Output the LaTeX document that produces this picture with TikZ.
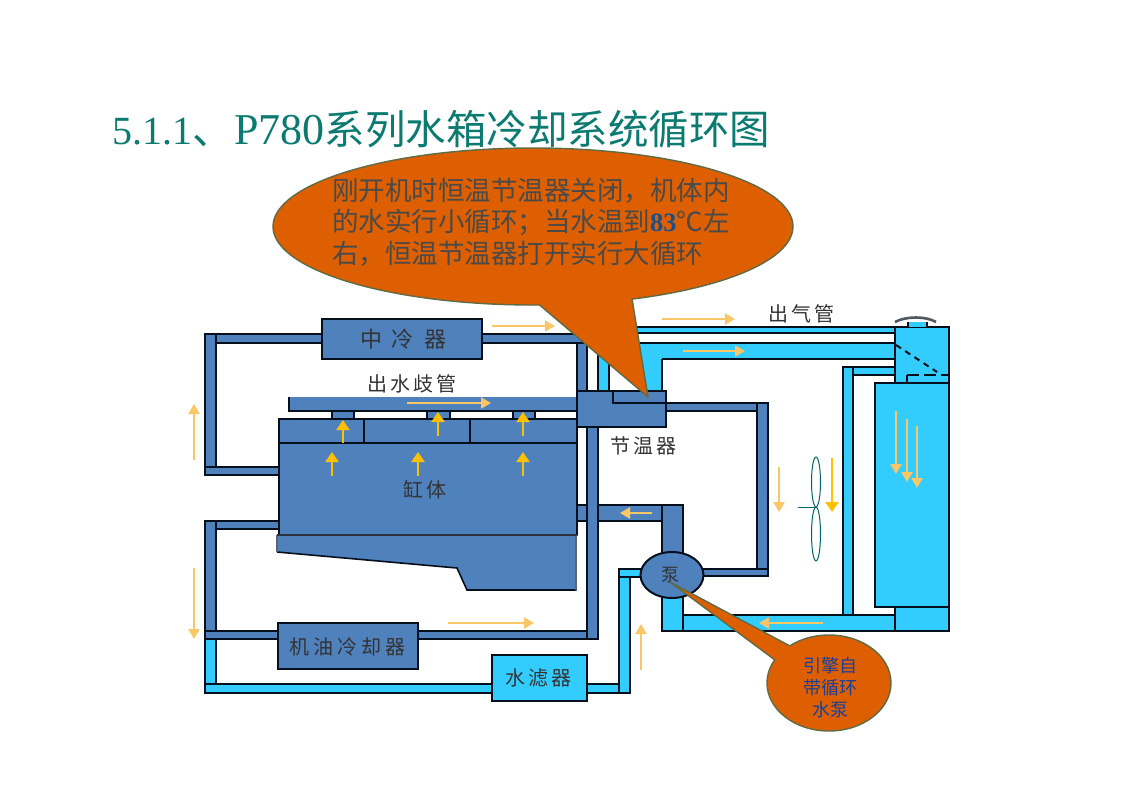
\documentclass[tikz,border=0pt]{standalone}
\usepackage{fontspec}
\setmainfont{Liberation Serif}
\newfontfamily\cjk{Noto Sans CJK SC}
\usetikzlibrary{arrows.meta,shapes.geometric}
\definecolor{dkblue}{HTML}{4F81BD}
\definecolor{ltblue}{HTML}{33CCFF}
\definecolor{edge}{HTML}{06101C}
\definecolor{flowlt}{HTML}{FBC666}
\definecolor{flowyl}{HTML}{FFC000}
\definecolor{bubblefill}{HTML}{DD5F00}
\definecolor{bubbleedge}{HTML}{5F6B45}
\definecolor{titlecol}{HTML}{0B7A70}
\definecolor{saytext}{HTML}{4A4A4A}
\newcommand{\lsize}[1]{\fontsize{#1}{#1}\selectfont}
\tikzset{
  x=1pt,y=-1pt,
  dk/.style={fill=dkblue,draw=edge,line width=2pt},
  lt/.style={fill=ltblue,draw=edge,line width=2pt},
  boxdk/.style={dk,rectangle,inner sep=0pt},
  boxlt/.style={lt,rectangle,inner sep=0pt},
  lab/.style={inner sep=0pt,text=black!80,font=\cjk\lsize{20}},
  fl/.style={draw=flowlt,line width=2.2pt,-{Triangle[length=10pt,width=11pt,fill=flowlt]}},
  fy/.style={draw=flowyl,line width=2.4pt,-{Triangle[length=10pt,width=13pt,fill=flowyl]}},
  fan/.style={draw=teal!80!black,line width=1pt},
  say/.style={fill=bubblefill,draw=bubbleedge,line width=1.4pt,ellipse,inner sep=0pt},
}
\begin{document}
\begin{tikzpicture}
\useasboundingbox (0,0) rectangle (1122,793);
\fill[white] (0,0) rectangle (1122,793);
% title
\node[anchor=base west,inner sep=0pt,text=titlecol,font=\lsize{40}] (title) at (112,144)
  {5.1.1{\cjk\lsize{41}、}\hspace{1pt}{\lsize{44}P780}{\cjk\lsize{40.5}系列水箱冷却系统循环图}};
% left circuit, upper
\draw[dk] (205,334) rectangle (587,343);
\draw[dk] (205,334) rectangle (216,475);
\draw[dk] (205,467) rectangle (280,475);
% left circuit, lower
\draw[dk] (205,521) rectangle (280,529);
\draw[dk] (205,521) rectangle (216,632);
\draw[lt] (205,632) rectangle (216,693);
\draw[dk] (205,631) rectangle (598,639);
\draw[lt] (205,684) rectangle (630,693);
\draw[lt] (619,569) rectangle (630,693);
\draw[lt] (619,569) rectangle (645,577);
% right of engine
\draw[dk] (577,343) rectangle (587,392);
\draw[dk] (575,505) rectangle (662,521);
\draw[dk] (587,425) rectangle (598,639);
\draw[dk] (662,505) rectangle (683,558);
\draw[lt] (662,592) rectangle (683,631);
% radiator lines
\draw[lt] (598,327) rectangle (895,333);
\draw[lt] (598,327) rectangle (609,392);
\draw[lt] (625,343) rectangle (895,359);
\fill[ltblue] (640,344) rectangle (662,392);
\draw[edge,line width=2pt] (662,359) -- (662,392);
\draw[dk] (664,403) rectangle (768,411);
\draw[dk] (757,403) rectangle (768,576);
\draw[dk] (700,569) rectangle (768,576);
\draw[lt] (683,615) rectangle (897,631);
\draw[lt] (843,367) rectangle (895,375);
\draw[lt] (843,367) rectangle (853,615);
% radiator
\draw[lt] (895,327) rectangle (949,383);
\draw[lt] (875,383) rectangle (949,607);
\draw[lt] (895,607) rectangle (949,631);
\draw[edge,line width=2pt,dash pattern=on 6pt off 5pt] (896,345) -- (937,372);
\draw[edge,line width=2pt,dash pattern=on 12pt off 5pt] (907,375) -- (949,375);
\draw[edge,line width=2pt] (907,383) -- (907,375);
\fill[ltblue] (908,322) rectangle (927,327);
\draw[edge,line width=1.2pt] (908,322) -- (908,327) (927,322) -- (927,327);
\draw[edge!70,line width=2.6pt] (895,322) .. controls (906,316) and (926,316) .. (936,322);
% manifold and engine
\fill[dkblue] (289,397) rectangle (577,411);
\draw[edge,line width=2pt] (289,397) -- (289,411) -- (577,411);
\draw[dk] (332,411) rectangle (354,419);
\draw[dk] (427,411) rectangle (450,419);
\draw[dk] (513,411) rectangle (535,419);
\draw[dk] (279,419) rectangle (577,443);
\draw[edge,line width=2pt] (364,419) -- (364,443) (470,419) -- (470,443);
\draw[dk] (279,443) rectangle (577,535);
\draw[dkblue,fill=dkblue,line width=0pt] (277,535) -- (577,535) -- (576,590) -- (467,590) -- (457,568) -- (277,552) -- cycle;
\draw[edge,line width=1.6pt] (277,552) -- (457,568) -- (467,590) -- (576,590);
\draw[edge!65,line width=2pt] (277,535) -- (277,552) (576,535) -- (576,590);
\draw[edge!85,line width=2pt] (277,535) -- (577,535);
% thermostat
\draw[dk] (577,391) rectangle (666,427);
\draw[edge,line width=2pt] (613,391) -- (613,403) -- (666,403);
% boxes
\node[boxdk,minimum width=160pt,minimum height=40pt] (intercooler) at (402,339) {};
\node[boxdk,minimum width=140pt,minimum height=46pt] (oilcooler) at (348,646) {};
\node[boxlt,minimum width=95pt,minimum height=46pt] (filter) at (539.5,678) {};
\node[fill=dkblue,draw=edge,line width=2pt,ellipse,inner sep=0pt,minimum width=63pt,minimum height=46pt] (pump) at (672,575) {};
% labels
\node[lab,font=\cjk\lsize{22}] (t1) at (403,339) {中\hspace{10pt}冷\hspace{10pt}器};
\node[lab] (t2) at (412,384) {出\hspace{3pt}水\hspace{3pt}歧\hspace{3pt}管};
\node[lab] (t3) at (425,490) {缸\hspace{3pt}体};
\node[lab] (t4) at (643,446) {节\hspace{3pt}温\hspace{3pt}器};
\node[lab] (t5) at (801,314) {出\hspace{3pt}气\hspace{3pt}管};
\node[lab] (t6) at (347,647) {机\hspace{4pt}油\hspace{4pt}冷\hspace{4pt}却\hspace{4pt}器};
\node[lab] (t7) at (538,678) {水\hspace{3pt}滤\hspace{3pt}器};
\node[lab,font=\cjk\lsize{18}] (t8) at (670,575) {泵};
% fan
\draw[fan] (816,482) ellipse [x radius=4.5,y radius=25];
\draw[fan] (816,534) ellipse [x radius=4.5,y radius=27];
\draw[fan] (798,507) -- (816,507);
% flow arrows
\draw[fl] (492,326) -- (555,326);
\draw[fl] (662,319) -- (735,319);
\draw[fl] (683,351) -- (745,351);
\draw[fl] (407,403) -- (491,403);
\draw[fl] (194,460) -- (194,404);
\draw[fl] (194,568) -- (194,639);
\draw[fl] (448,623) -- (534,623);
\draw[fl] (641,670) -- (641,624);
\draw[fl] (823,623) -- (759,623);
\draw[fl] (652,513) -- (620,513);
\draw[fl] (779,467) -- (779,512);
\draw[fl] (896,411) -- (896,474);
\draw[fl] (907,419) -- (907,482);
\draw[fl] (917,426) -- (917,488);
\draw[fy] (832,458) -- (832,512);
\draw[fy] (343,443) -- (343,420);
\draw[fy] (438,436) -- (438,412);
\draw[fy] (523,436) -- (523,412);
\draw[fy] (332,476) -- (332,452);
\draw[fy] (418,476) -- (418,452);
\draw[fy] (523,476) -- (523,452);
% callouts
\node[say,minimum width=520pt,minimum height=157pt] (bigsay) at (533,226.5) {};
\coordinate (bigtip) at (648,397);
\coordinate (bigl) at (539,304.5);
\coordinate (bigr) at (632,298.5);
\fill[bubblefill] (bigl) -- (bigtip) -- (bigr) -- (585,285) -- cycle;
\draw[bubbleedge,line width=1.4pt] (bigl) -- (bigtip) -- (bigr);
\node[say,minimum width=124pt,minimum height=96pt] (smallsay) at (829,683) {};
\coordinate (smalltip) at (670,582);
\coordinate (smalll) at (775,660);
\coordinate (smallr) at (790,646);
\fill[bubblefill] (smalll) -- (smalltip) -- (smallr) -- (805,670) -- cycle;
\draw[bubbleedge,line width=1.4pt] (smalll) -- (smalltip) -- (smallr);
\node[anchor=west,inner sep=0pt,align=left,text=saytext,font=\cjk\fontsize{26.5}{31.5}\selectfont] (saytxt) at (332,222)
  {刚开机时恒温节温器关闭，机体内\\
   的水实行小循环；当水温到{\rmfamily\bfseries\color[HTML]{1B4F8A}83}℃左\\
   右，恒温节温器打开实行大循环};
\node[inner sep=0pt,align=center,text={rgb,255:red,26;green,63;blue,154},font=\cjk\fontsize{18}{22}\selectfont] (smalltxt) at (830,688)
  {引擎自\\带循环\\水泵};
\end{tikzpicture}
\end{document}
